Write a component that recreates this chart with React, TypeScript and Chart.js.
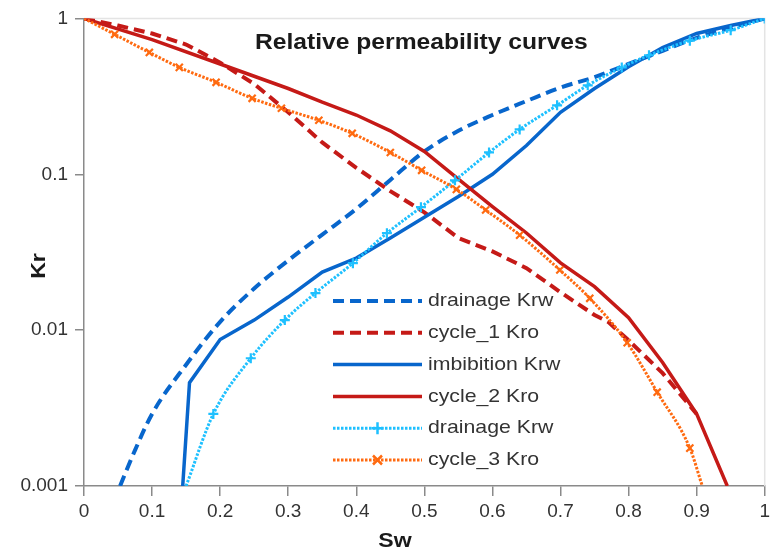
import React, { useEffect, useRef } from 'react';
import { Chart, registerables } from 'chart.js';

Chart.register(...registerables);

// ---------- Data ----------
const TITLE = 'Relative permeability curves';
const X_TITLE = 'Sw';
const Y_TITLE = 'Kr';
const Y_TICKS = [0.001, 0.01, 0.1, 1];

const SERIES_NAMES = [
  'drainage Krw',
  'cycle_1 Kro',
  'imbibition Krw',
  'cycle_2 Kro',
  'drainage Krw',
  'cycle_3 Kro',
];

// drainage Krw (dashed)
const SW_DRAIN1 = [0.053, 0.075, 0.1, 0.15, 0.2, 0.25, 0.3, 0.35, 0.4, 0.45, 0.5, 0.55, 0.6, 0.65, 0.7, 0.75, 0.8, 0.85, 0.9, 0.95, 1.0];
const KRW_DRAIN1 = [0.001, 0.0017, 0.0029, 0.006, 0.0113, 0.0185, 0.028, 0.041, 0.06, 0.092, 0.14, 0.19, 0.24, 0.295, 0.36, 0.42, 0.51, 0.62, 0.75, 0.87, 1.0];

// cycle_1 Kro (dashed)
const SW_C1 = [0, 0.05, 0.1, 0.15, 0.2, 0.25, 0.3, 0.35, 0.4, 0.45, 0.5, 0.55, 0.6, 0.65, 0.7, 0.75, 0.77, 0.8, 0.85, 0.9];
const KRO_C1 = [1, 0.9, 0.8, 0.68, 0.52, 0.38, 0.25, 0.16, 0.11, 0.078, 0.057, 0.039, 0.032, 0.025, 0.0175, 0.0125, 0.0113, 0.0086, 0.0053, 0.0029];

// imbibition Krw (solid)
const SW_IMB = [0.145, 0.155, 0.2, 0.25, 0.3, 0.35, 0.4, 0.45, 0.5, 0.55, 0.6, 0.65, 0.7, 0.75, 0.8, 0.85, 0.9, 0.95, 1.0];
const KRW_IMB = [0.001, 0.0046, 0.0087, 0.0116, 0.0163, 0.0236, 0.029, 0.039, 0.053, 0.072, 0.1, 0.153, 0.25, 0.355, 0.49, 0.65, 0.8, 0.9, 1.0];

// cycle_2 Kro (solid)
const SW_C2 = [0, 0.1, 0.2, 0.3, 0.35, 0.4, 0.45, 0.5, 0.55, 0.6, 0.65, 0.7, 0.75, 0.8, 0.85, 0.9, 0.945];
const KRO_C2 = [1, 0.73, 0.51, 0.355, 0.29, 0.24, 0.19, 0.14, 0.093, 0.062, 0.042, 0.027, 0.019, 0.012, 0.0062, 0.0029, 0.001];

// drainage Krw (dotted, + markers)
const SW_DRAIN2 = [0.15, 0.19, 0.245, 0.295, 0.34, 0.395, 0.445, 0.495, 0.545, 0.595, 0.64, 0.695, 0.74, 0.79, 0.83, 0.89, 0.95, 1.0];
const KRW_DRAIN2 = [0.001, 0.0029, 0.0066, 0.0116, 0.0173, 0.0269, 0.0419, 0.0615, 0.0914, 0.138, 0.194, 0.277, 0.372, 0.485, 0.58, 0.72, 0.84, 1.0];

// cycle_3 Kro (dotted, x markers)
const SW_C3 = [0, 0.045, 0.096, 0.14, 0.194, 0.247, 0.29, 0.345, 0.394, 0.45, 0.496, 0.547, 0.59, 0.64, 0.699, 0.743, 0.798, 0.842, 0.89, 0.908];
const KRO_C3 = [1, 0.79, 0.605, 0.485, 0.389, 0.307, 0.265, 0.222, 0.183, 0.138, 0.106, 0.08, 0.059, 0.0407, 0.0243, 0.016, 0.0083, 0.004, 0.00175, 0.00101];

// ---------- Styles ----------
const BLUE = '#0866cc';
const RED = '#c51a17';
const LIGHT_BLUE = '#1ec0ff';
const ORANGE = '#ff6a10';
const FONT = '"Liberation Sans", Arial, sans-serif';

type Style = { color: string; width: number; dash: number[]; marker: string | null; smooth: boolean };
const STYLES: Style[] = [
  { color: BLUE, width: 4, dash: [11, 6], marker: null, smooth: true },
  { color: RED, width: 4, dash: [11, 6], marker: null, smooth: false },
  { color: BLUE, width: 3.5, dash: [], marker: null, smooth: false },
  { color: RED, width: 3.5, dash: [], marker: null, smooth: false },
  { color: LIGHT_BLUE, width: 3, dash: [2.5, 1.5], marker: 'cross', smooth: true },
  { color: ORANGE, width: 3, dash: [2.5, 1.5], marker: 'crossRot', smooth: true },
];

const XS = [SW_DRAIN1, SW_C1, SW_IMB, SW_C2, SW_DRAIN2, SW_C3];
const YS = [KRW_DRAIN1, KRO_C1, KRW_IMB, KRO_C2, KRW_DRAIN2, KRO_C3];

function stretchedText(ctx: CanvasRenderingContext2D, text: string, x: number, y: number, font: string, color: string, align: CanvasTextAlign, sx: number) {
  ctx.save();
  ctx.font = font;
  ctx.fillStyle = color;
  ctx.textAlign = align;
  ctx.textBaseline = 'middle';
  ctx.translate(x, y);
  ctx.scale(sx, 1);
  ctx.fillText(text, 0, 0);
  ctx.restore();
}

function drawMarker(ctx: CanvasRenderingContext2D, kind: string, x: number, y: number, r: number, color: string) {
  ctx.save();
  ctx.setLineDash([]);
  ctx.strokeStyle = color;
  ctx.lineWidth = 2.5;
  ctx.beginPath();
  if (kind === 'cross') {
    ctx.moveTo(x - r, y); ctx.lineTo(x + r, y);
    ctx.moveTo(x, y - r); ctx.lineTo(x, y + r);
  } else {
    const d = r * 0.75;
    ctx.moveTo(x - d, y - d); ctx.lineTo(x + d, y + d);
    ctx.moveTo(x + d, y - d); ctx.lineTo(x - d, y + d);
  }
  ctx.stroke();
  ctx.restore();
}

const decorPlugin = {
  id: 'decor',
  beforeDatasetsDraw(chart: any) {
    const { ctx, chartArea } = chart;
    ctx.save();
    ctx.strokeStyle = '#e4e4e4';
    ctx.lineWidth = 1.5;
    ctx.beginPath();
    ctx.moveTo(chartArea.left, chartArea.top);
    ctx.lineTo(chartArea.right, chartArea.top);
    ctx.lineTo(chartArea.right, chartArea.bottom);
    ctx.stroke();
    ctx.restore();
  },
  afterDraw(chart: any) {
    const { ctx, chartArea } = chart;
    const midX = (chartArea.left + chartArea.right) / 2;
    // title
    stretchedText(ctx, TITLE, midX - 3, chartArea.top + 25, `bold 22px ${FONT}`, '#1a1a1a', 'center', 1.12);
    // axis titles
    stretchedText(ctx, X_TITLE, 395, 541, `bold 21px ${FONT}`, '#1a1a1a', 'center', 1.1);
    ctx.save();
    ctx.translate(39, 266);
    ctx.rotate(-Math.PI / 2);
    stretchedText(ctx, Y_TITLE, 0, 0, `bold 21px ${FONT}`, '#1a1a1a', 'center', 1.1);
    ctx.restore();
    // legend
    const lx0 = 333, lx1 = 422, tx = 428, y0 = 301, dy = 31.8;
    SERIES_NAMES.forEach((name, i) => {
      const s = STYLES[i];
      const y = y0 + i * dy;
      ctx.save();
      ctx.strokeStyle = s.color;
      ctx.lineWidth = s.width;
      ctx.setLineDash(s.dash);
      ctx.lineCap = 'butt';
      ctx.beginPath();
      ctx.moveTo(lx0, y);
      ctx.lineTo(lx1, y);
      ctx.stroke();
      ctx.restore();
      if (s.marker) drawMarker(ctx, s.marker, (lx0 + lx1) / 2, y, 6, s.color);
      stretchedText(ctx, name, tx, y, `19px ${FONT}`, '#333333', 'left', 1.12);
    });
  },
};

export default function App() {
  const ref = useRef<HTMLCanvasElement | null>(null);

  useEffect(() => {
    if (!ref.current) return;
    const datasets = SERIES_NAMES.map((name, i) => {
      const s = STYLES[i];
      const xs = XS[i];
      const ys = YS[i];
      const n = xs.length;
      return {
        label: name,
        data: xs.map((x, k) => ({ x, y: ys[k] })),
        borderColor: s.color,
        backgroundColor: s.color,
        borderWidth: s.width,
        borderDash: s.dash,
        borderCapStyle: 'butt' as const,
        cubicInterpolationMode: s.smooth ? ('monotone' as const) : ('default' as const),
        tension: 0,
        fill: false,
        order: 6 - i,
        pointStyle: s.marker || 'circle',
        pointRadius: s.marker
          ? (c: any) => (c.dataIndex === 0 || (i === 5 && c.dataIndex === n - 1) ? 0 : 5)
          : 0,
        pointBorderWidth: 2.2,
        pointBorderColor: s.color,
        pointHoverRadius: 0,
      };
    });

    const axisColor = '#8a8a8a';
    const chart = new Chart(ref.current, {
      type: 'line',
      data: { datasets },
      plugins: [decorPlugin],
      options: {
        animation: false,
        responsive: false,
        maintainAspectRatio: false,
        layout: { padding: { top: 18, right: 6, left: 0, bottom: 0 } },
        plugins: {
          legend: { display: false },
          tooltip: { enabled: false },
          title: { display: false },
        },
        scales: {
          x: {
            type: 'linear',
            min: 0,
            max: 1,
            afterFit: (scale: any) => { scale.height = 68; },
            ticks: {
              stepSize: 0.1,
              padding: 4,
              color: '#333333',
              font: { family: FONT, size: 19 },
              callback: (v: any) => String(Number(Number(v).toFixed(1))),
              maxRotation: 0,
            },
            grid: { drawOnChartArea: false, drawTicks: true, tickLength: 10, color: axisColor, lineWidth: 1.5 },
            border: { display: true, color: axisColor, width: 1.5 },
          },
          y: {
            type: 'logarithmic',
            min: 0.001,
            max: 1,
            afterFit: (scale: any) => { scale.width = 84; },
            afterBuildTicks: (scale: any) => { scale.ticks = Y_TICKS.map((v) => ({ value: v })); },
            ticks: {
              padding: 7,
              color: '#333333',
              font: { family: FONT, size: 19 },
              callback: (v: any) => String(v),
            },
            grid: { drawOnChartArea: false, drawTicks: true, tickLength: 9, color: axisColor, lineWidth: 1.5 },
            border: { display: true, color: axisColor, width: 1.5 },
          },
        },
      } as any,
    });
    return () => chart.destroy();
  }, []);

  return (
    <div style={{ position: 'fixed', left: 0, top: 0, width: 774, height: 554, background: '#fff' }}>
      <canvas ref={ref} width={774} height={554} style={{ display: 'block', width: 774, height: 554 }} />
    </div>
  );
}
